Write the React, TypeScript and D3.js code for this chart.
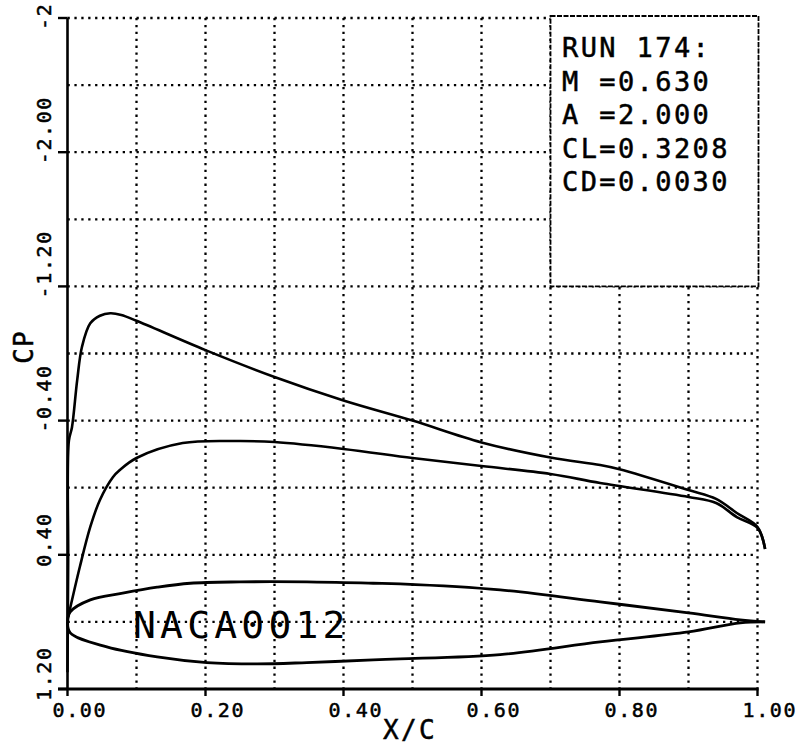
import React from "react";
import * as d3 from "d3";

// ---- data ----
const xTickValues = [0, 0.2, 0.4, 0.6, 0.8, 1.0];
const xTickLabels = ["0.00", "0.20", "0.40", "0.60", "0.80", "1.00"];
const xGridValues = [0.1, 0.2, 0.3, 0.4, 0.5, 0.6, 0.7, 0.8, 0.9, 1.0];

const yTickValues = [-2.8, -2.0, -1.2, -0.4, 0.4, 1.2];
const yTickLabels = ["-2", "-2.00", "-1.20", "-0.40", "0.40", "1.20"];
const yGridValues = [-2.8, -2.4, -2.0, -1.6, -1.2, -0.8, -0.4, 0.0, 0.4, 0.8];

// upper-surface Cp (x/c, Cp)
const upperX = [0, 0.001, 0.002, 0.0065, 0.014, 0.021, 0.033, 0.047, 0.062, 0.078, 0.1, 0.2, 0.3, 0.4, 0.5, 0.6, 0.7, 0.772, 0.8, 0.9, 0.94, 0.97, 1.0, 1.011];
const upperCp = [1.1, 0.43, -0.28, -0.36, -0.64, -0.84, -0.98, -1.025, -1.04, -1.03, -0.995, -0.82, -0.66, -0.52, -0.4, -0.27, -0.18, -0.135, -0.11, 0.014, 0.067, 0.151, 0.234, 0.365];

// lower-surface Cp (x/c, Cp)
const lowerX = [0.001, 0.018, 0.033, 0.047, 0.066, 0.076, 0.1, 0.167, 0.246, 0.3, 0.4, 0.5, 0.6, 0.7, 0.772, 0.9, 0.94, 0.97, 1.0, 1.011];
const lowerCp = [0.77, 0.47, 0.234, 0.073, -0.064, -0.106, -0.177, -0.266, -0.278, -0.272, -0.231, -0.177, -0.129, -0.082, -0.028, 0.055, 0.091, 0.175, 0.24, 0.365];

// airfoil contour (x/c, y/c)
const foilUpperX = [0, 0.004, 0.033, 0.08, 0.13, 0.178, 0.25, 0.347, 0.443, 0.482, 0.627, 0.772, 0.9, 0.975, 1.011];
const foilUpperY = [0, 0.015, 0.033, 0.043, 0.052, 0.058, 0.06, 0.06, 0.058, 0.057, 0.048, 0.03, 0.0135, 0.003, 0];
const foilLowerX = [0, 0.004, 0.057, 0.13, 0.202, 0.275, 0.347, 0.443, 0.482, 0.627, 0.772, 0.9, 0.975, 1.011];
const foilLowerY = [0, -0.0165, -0.0375, -0.0525, -0.061, -0.063, -0.061, -0.057, -0.0555, -0.049, -0.03, -0.015, -0.0015, 0];

const runLines = ["RUN 174:", "M =0.630", "A =2.000", "CL=0.3208", "CD=0.0030"];
const airfoilName = "NACA0012";
const airfoilBaseCp = 0.8;

const FONT = "'DejaVu Sans Mono', 'Liberation Mono', monospace";

export default function App() {
  const W = 803;
  const H = 744;
  const x = d3.scaleLinear().domain([0, 1]).range([67.5, 757.5]);
  const y = d3.scaleLinear().domain([-2.8, 1.2]).range([18, 689]);
  const foilCenter = y(airfoilBaseCp);
  const yf = d3.scaleLinear().domain([-0.06, 0.06]).range([foilCenter + 40, foilCenter - 40]);

  const cpLine = d3
    .line<[number, number]>()
    .x((d) => x(d[0]))
    .y((d) => y(d[1]))
    .curve(d3.curveCatmullRom.alpha(0.5));
  const foilLine = d3
    .line<[number, number]>()
    .x((d) => x(d[0]))
    .y((d) => yf(d[1]))
    .curve(d3.curveCatmullRom.alpha(0.5));

  const upper = upperX.map((v, i) => [v, upperCp[i]] as [number, number]);
  const lower = lowerX.map((v, i) => [v, lowerCp[i]] as [number, number]);
  const fu = foilUpperX.map((v, i) => [v, foilUpperY[i]] as [number, number]);
  const fl = foilLowerX.map((v, i) => [v, foilLowerY[i]] as [number, number]);

  const [y0, y1] = y.range();
  const [x0, x1] = x.range();
  const dot = { stroke: "#000", strokeWidth: 2.3, strokeDasharray: "2.3 4.6", fill: "none" } as const;

  const boxX = 550.5;
  const boxY = 16;
  const boxW = x1 + 1 - boxX;
  const boxH = y(-1.2) - boxY;
  const textStroke = { stroke: "#000", strokeWidth: 0.5 } as const;

  return (
    <svg
      width={W}
      height={H}
      viewBox={`0 0 ${W} ${H}`}
      style={{ position: "absolute", left: 0, top: 0, background: "#fff" }}
      fontFamily={FONT}
    >
      <rect x={0} y={0} width={W} height={H} fill="#fff" />
      {/* grid */}
      {xGridValues.map((v) => (
        <line key={"gx" + v} x1={x(v)} x2={x(v)} y1={y0} y2={y1} {...dot} />
      ))}
      {yGridValues.map((v) => (
        <line key={"gy" + v} x1={x0} x2={x1} y1={y(v)} y2={y(v)} {...dot} />
      ))}

      {/* run info box */}
      <rect
        x={boxX}
        y={boxY}
        width={boxW}
        height={boxH}
        fill="#fff"
        stroke="#000"
        strokeWidth={1.8}
        strokeDasharray="5 1.5"
      />
      {runLines.map((t, i) => (
        <text
          key={t}
          x={562}
          y={57 + i * 33.6}
          fontSize={27}
          letterSpacing={2.4}
          fill="#000"
          {...textStroke}
        >
          {t}
        </text>
      ))}

      {/* airfoil */}
      <path d={foilLine(fu) || ""} fill="none" stroke="#000" strokeWidth={2.8} />
      <path d={foilLine(fl) || ""} fill="none" stroke="#000" strokeWidth={2.8} />
      <text x={133} y={638} fontSize={38} letterSpacing={4.2} fill="#000">
        {airfoilName}
      </text>

      {/* Cp curves */}
      <path d={cpLine(upper) || ""} fill="none" stroke="#000" strokeWidth={2.6} />
      <path d={cpLine(lower) || ""} fill="none" stroke="#000" strokeWidth={2.6} />

      {/* axes */}
      <line x1={x0} x2={x0} y1={y0} y2={y1} stroke="#000" strokeWidth={2.6} />
      <line x1={58} x2={x1 + 1} y1={y1} y2={y1} stroke="#000" strokeWidth={2.8} />
      {yTickValues.map((v) => (
        <line key={"ty" + v} x1={58} x2={x0} y1={y(v)} y2={y(v)} stroke="#000" strokeWidth={2.4} />
      ))}
      {xTickValues.map((v) => (
        <line key={"tx" + v} x1={x(v)} x2={x(v)} y1={y1} y2={y1 + 7} stroke="#000" strokeWidth={2.4} />
      ))}

      {/* tick labels */}
      {xTickValues.map((v, i) => (
        <text key={"lx" + v} x={x(v) - 15} y={717} fontSize={20} letterSpacing={1.6} fill="#000" {...textStroke}>
          {xTickLabels[i]}
        </text>
      ))}
      {yTickValues.map((v, i) => {
        const ty = y(v) + 12;
        return (
          <text
            key={"ly" + v}
            x={51}
            y={ty}
            transform={`rotate(-90 51 ${ty})`}
            fontSize={20}
            letterSpacing={1.6}
            fill="#000"
            {...textStroke}
          >
            {yTickLabels[i]}
          </text>
        );
      })}

      {/* axis titles */}
      <text x={383} y={739} fontSize={26} letterSpacing={2.4} fill="#000" {...textStroke}>
        X/C
      </text>
      <text
        x={33}
        y={347}
        transform="rotate(-90 33 347)"
        textAnchor="middle"
        fontSize={26}
        letterSpacing={1}
        fill="#000"
        {...textStroke}
      >
        CP
      </text>
    </svg>
  );
}
